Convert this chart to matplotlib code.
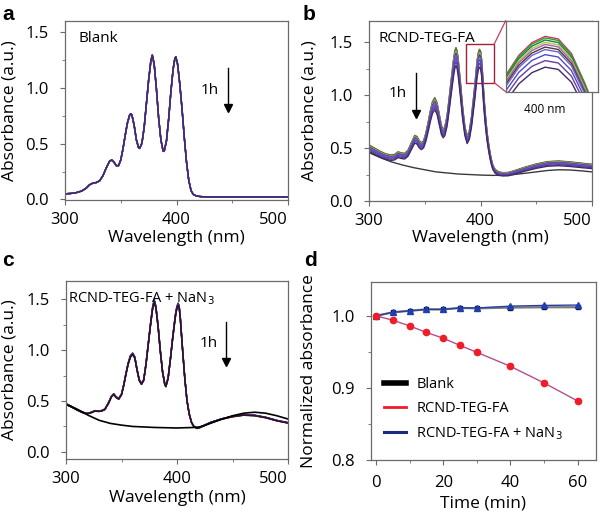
import matplotlib
matplotlib.use("Agg")
import matplotlib.pyplot as plt
from matplotlib.ticker import MultipleLocator
from matplotlib.patches import Rectangle, ConnectionPatch
from matplotlib.lines import Line2D

plt.rcParams['font.family'] = ['Open Sans', 'DejaVu Sans']

# ---------------- data ----------------
# time points (min) and normalized absorbance at 400 nm (panel d)
time_min = [0, 5, 10, 15, 20, 25, 30, 40, 50, 60]
norm_blank = [1.000, 1.005, 1.007, 1.009, 1.009, 1.011, 1.0105, 1.0115, 1.012, 1.012]
norm_fa = [1.000, 0.994, 0.986, 0.977, 0.969, 0.959, 0.9495, 0.930, 0.907, 0.882]
norm_nan3 = [1.000, 1.005, 1.007, 1.009, 1.009, 1.011, 1.011, 1.0135, 1.0145, 1.015]

# panel a: blank spectrum (t = 0)
wl_a = [300, 305, 310, 315, 319, 322, 325, 328, 331, 334, 337, 340, 342, 344, 346, 348,
        350, 352, 354, 356, 358, 359, 360, 362, 364, 366, 367, 369, 371, 373, 375, 377,
        378.3, 380, 382, 384, 386, 388, 389, 391, 393, 395, 397, 398.5, 399.4, 401, 403,
        405, 407, 409, 411, 413, 415, 418, 422, 430, 500]
abs_a = [0.05, 0.053, 0.06, 0.075, 0.10, 0.13, 0.145, 0.15, 0.165, 0.21, 0.28, 0.34, 0.35, 0.33, 0.30, 0.30,
         0.35, 0.45, 0.57, 0.68, 0.75, 0.76, 0.75, 0.66, 0.53, 0.46, 0.455, 0.50, 0.64, 0.85, 1.06, 1.23,
         1.28, 1.20, 0.98, 0.72, 0.53, 0.43, 0.43, 0.52, 0.72, 0.96, 1.16, 1.25, 1.265, 1.20, 1.02,
         0.80, 0.55, 0.33, 0.17, 0.08, 0.045, 0.03, 0.025, 0.022, 0.022]

# panel b: RCND-TEG-FA spectrum (t = 0) and background
wl_b = [300, 305, 310, 315, 320, 323, 326, 329, 332, 335, 338, 341, 343, 345, 347, 349,
        351, 353, 355, 357, 359, 361, 363, 365, 366.5, 368, 370, 372, 374, 376, 377, 378,
        379, 380, 382, 384, 386, 388, 390, 392, 394, 395, 396, 397, 398, 399, 400, 401,
        402, 403, 404, 405, 406, 407, 408, 409, 410, 411, 413, 416, 420, 425, 430, 440,
        450, 460, 470, 480, 490, 500]
abs_b = [0.53, 0.50, 0.47, 0.445, 0.435, 0.44, 0.465, 0.455, 0.45, 0.48, 0.55, 0.62, 0.61, 0.57, 0.55, 0.57,
         0.64, 0.74, 0.85, 0.94, 0.977, 0.93, 0.82, 0.71, 0.677, 0.70, 0.80, 0.98, 1.17, 1.35, 1.42, 1.45,
         1.42, 1.34, 1.12, 0.88, 0.70, 0.615, 0.66, 0.80, 1.00, 1.10, 1.22, 1.33, 1.40, 1.434, 1.42, 1.34,
         1.18, 1.00, 0.86, 0.74, 0.64, 0.56, 0.49, 0.43, 0.38, 0.34, 0.30, 0.275, 0.268, 0.27, 0.285, 0.32,
         0.35, 0.372, 0.378, 0.37, 0.358, 0.347]
wl_bg_b = [300, 310, 320, 330, 340, 350, 360, 370, 380, 390, 400, 410, 420, 430, 440, 450, 460, 470, 480, 490, 500]
abs_bg_b = [0.457, 0.41, 0.37, 0.34, 0.315, 0.295, 0.275, 0.265, 0.255, 0.25, 0.245, 0.242, 0.243, 0.25,
            0.262, 0.275, 0.288, 0.295, 0.293, 0.285, 0.275]

# panel c: RCND-TEG-FA + NaN3 spectrum (t = 0) and background
wl_c = [300, 305, 310, 315, 319, 323, 326, 329, 332, 335, 338, 341, 343, 345, 347.5, 350,
        352, 354, 356, 358, 360, 362, 364, 366, 368, 370, 372, 374, 376, 378, 379.5, 381,
        383, 385, 387, 389, 390, 392, 394, 396, 398, 399, 400, 401, 402, 403, 405, 407,
        409, 411, 413, 415, 418, 420, 425, 430, 440, 450, 460, 470, 480, 490, 500]
abs_c = [0.467, 0.44, 0.41, 0.385, 0.373, 0.385, 0.40, 0.397, 0.40, 0.415, 0.47, 0.54, 0.563, 0.535, 0.517, 0.56,
         0.65, 0.76, 0.86, 0.93, 0.957, 0.92, 0.80, 0.70, 0.663, 0.70, 0.85, 1.04, 1.23, 1.40, 1.473, 1.41,
         1.22, 0.98, 0.78, 0.66, 0.64, 0.72, 0.90, 1.10, 1.28, 1.36, 1.41, 1.44, 1.41, 1.30, 1.00, 0.72,
         0.50, 0.37, 0.29, 0.25, 0.23, 0.235, 0.26, 0.285, 0.32, 0.345, 0.36, 0.355, 0.335, 0.305, 0.283]
wl_bg_c = [300, 310, 320, 330, 340, 350, 360, 380, 400, 415, 420, 425, 430, 440, 450, 460, 470, 480, 490, 500]
abs_bg_c = [0.467, 0.42, 0.36, 0.31, 0.28, 0.263, 0.25, 0.24, 0.235, 0.24, 0.245, 0.26, 0.28, 0.32,
            0.355, 0.38, 0.39, 0.38, 0.355, 0.323]

curve_colors = ['#d6336c', '#2ca02c', '#1b7f3b', '#a8c94a', '#b15ab5', '#404040',
                '#7b5fc0', '#4b4bd0', '#6a3d9a', '#3f2a6b']

# ---------------- figure ----------------
W, H = 600, 515
fig = plt.figure(figsize=(W / 100, H / 100), dpi=100)


def rect(x0, y0, x1, y1):
    return [x0 / W, 1 - y1 / H, (x1 - x0) / W, (y1 - y0) / H]


SPINE = '#6a6a6a'
TICK_FS = 12
LABEL_FS = 12.5


def style(ax, xpad=5, ypad=8):
    for s in ax.spines.values():
        s.set_color(SPINE)
        s.set_linewidth(0.9)
    ax.tick_params(which='both', direction='out', color=SPINE, labelsize=TICK_FS)
    ax.tick_params(axis='x', pad=xpad)
    ax.tick_params(axis='y', pad=ypad)
    ax.tick_params(which='major', length=3.5)
    ax.tick_params(which='minor', length=2.5)


def spectra_axes(r, ylim):
    ax = fig.add_axes(r)
    style(ax)
    ax.set_xlim(300, 500)
    ax.set_ylim(*ylim)
    ax.xaxis.set_major_locator(MultipleLocator(100))
    ax.xaxis.set_minor_locator(MultipleLocator(50))
    ax.yaxis.set_major_locator(MultipleLocator(0.5))
    ax.yaxis.set_minor_locator(MultipleLocator(0.25))
    ax.yaxis.set_major_formatter(matplotlib.ticker.FormatStrFormatter('%.1f'))
    ax.set_xlabel('Wavelength (nm)', fontsize=LABEL_FS)
    ax.set_ylabel('Absorbance (a.u.)', fontsize=LABEL_FS)
    return ax


def shift_last_xlabel(ax):
    fig.canvas.draw()
    for lab in ax.get_xticklabels():
        if lab.get_text() == '500':
            lab.set_horizontalalignment('right')


def fpx(x, y):
    return (x / W, 1 - y / H)


def down_arrow(x, y0, y1):
    fig.add_artist(Line2D([x / W, x / W], [1 - y0 / H, 1 - (y1 - 3) / H], color='black', lw=1.0))
    fig.add_artist(Line2D([x / W], [1 - (y1 - 2) / H], marker='v', color='black', markersize=6, lw=0))


# panel a
axa = spectra_axes(rect(65, 21, 288, 200), (-0.005, 1.6))
for f, c in zip(norm_blank, curve_colors):
    axa.plot(wl_a, [v * f for v in abs_a], color=c, lw=1.0)
axa.xaxis.set_label_coords(0.5, -0.165)
axa.yaxis.set_label_coords(-0.215, 0.5)
fig.text(*fpx(79, 42), 'Blank', fontsize=11, va='baseline')
fig.text(*fpx(201, 94), '1h', fontsize=11, va='baseline')
down_arrow(227.7, 68, 110)

# panel b
axb = spectra_axes(rect(369, 21, 592, 201), (0, 1.7))
axb.plot(wl_bg_b, abs_bg_b, color='#3a3a3a', lw=1.0)
for f, c in zip(norm_fa, curve_colors):
    axb.plot(wl_b, [v * f for v in abs_b], color=c, lw=1.0)
axb.xaxis.set_label_coords(0.5, -0.16)
axb.yaxis.set_label_coords(-0.233, 0.5)
fig.text(*fpx(379, 42), 'RCND-TEG-FA', fontsize=11, va='baseline')
fig.text(*fpx(389, 97), '1h', fontsize=11, va='baseline')
down_arrow(415.7, 72.7, 116)

box_x0, box_x1, box_y0, box_y1 = 386.6, 412.2, 1.118, 1.48
axb.add_patch(Rectangle((box_x0, box_y0), box_x1 - box_x0, box_y1 - box_y0, fill=False,
                        edgecolor='#a0203a', lw=1.0))

axi = fig.add_axes(rect(505.7, 20.7, 597.7, 91.7))
for s in axi.spines.values():
    s.set_color(SPINE)
    s.set_linewidth(0.9)
axi.set_xticks([])
axi.set_yticks([])
for f, c in zip(norm_fa, curve_colors):
    axi.plot(wl_b, [v * f for v in abs_b], color=c, lw=1.0)
axi.set_xlim(396.0, 403.0)
axi.set_ylim(1.13, 1.52)
for (xa, ya), (xb, yb) in [((box_x1, box_y1), (0, 1)), ((box_x1, box_y0), (0, 0))]:
    con = ConnectionPatch(xyA=(xa, ya), coordsA=axb.transData, xyB=(xb, yb), coordsB=axi.transAxes,
                          color='#c04060', lw=0.9)
    fig.add_artist(con)
fig.text(*fpx(545, 113), '400 nm', fontsize=8.5, ha='center', va='baseline')

# panel c
axc = spectra_axes(rect(66, 281, 288, 459), (-0.07, 1.68))
for f, c in zip(norm_nan3, curve_colors):
    axc.plot(wl_c, [v * f for v in abs_c], color=c, lw=1.0)
axc.plot(wl_c, abs_c, color='#301020', lw=1.0)
axc.plot(wl_bg_c, abs_bg_c, color='black', lw=1.2)
axc.xaxis.set_label_coords(0.5, -0.175)
axc.yaxis.set_label_coords(-0.22, 0.5)
fig.text(*fpx(68, 302), 'RCND-TEG-FA + NaN$_3$', fontsize=10.5, va='baseline')
fig.text(*fpx(200, 347), '1h', fontsize=11, va='baseline')
down_arrow(226, 321.7, 364)

# panel d
axd = fig.add_axes(rect(371, 282, 596, 460))
style(axd, xpad=7, ypad=8)
axd.set_xlim(-1.5, 65.5)
axd.set_ylim(0.8, 1.047)
axd.xaxis.set_major_locator(MultipleLocator(20))
axd.xaxis.set_minor_locator(MultipleLocator(10))
axd.yaxis.set_major_locator(MultipleLocator(0.1))
axd.yaxis.set_minor_locator(MultipleLocator(0.05))
axd.plot(time_min, norm_blank, color='#7a7a7a', lw=1.6, marker='s', ms=3.2,
         mfc='#101030', mec='#101030')
axd.plot(time_min, norm_nan3, color='#2a3fa0', lw=1.0, marker='^', ms=4.5,
         mfc='#1f3fb0', mec='#1f3fb0')
axd.plot(time_min, norm_fa, color='#b0508a', lw=1.0, marker='o', ms=4.5,
         mfc='#f01c28', mec='#f01c28')
axd.set_xlabel('Time (min)', fontsize=LABEL_FS)
axd.set_ylabel('Normalized absorbance', fontsize=LABEL_FS)
axd.xaxis.set_label_coords(0.5, -0.2)
axd.yaxis.set_label_coords(-0.24, 0.5)
handles = [Line2D([], [], color='black', lw=4),
           Line2D([], [], color='#f01c28', lw=2),
           Line2D([], [], color='#1a2a80', lw=2.2)]
axd.legend(handles, ['Blank', 'RCND-TEG-FA', 'RCND-TEG-FA + NaN$_3$'], loc='lower left',
           bbox_to_anchor=(0.0, 0.03), frameon=False, fontsize=10.5, handlelength=1.5,
           handletextpad=0.7, labelspacing=0.6)

# keep the 500 nm tick labels inside the figure, as in the original
for ax in (axa, axb, axc):
    shift_last_xlabel(ax)

# panel letters
for lx, ly, t in [(2, 20, 'a'), (303, 20, 'b'), (2, 266, 'c'), (304, 266, 'd')]:
    fig.text(*fpx(lx, ly), t, fontsize=15, fontweight='bold', va='baseline',
             family=['Liberation Sans', 'DejaVu Sans'])

fig.savefig('out.png', dpi=100)
